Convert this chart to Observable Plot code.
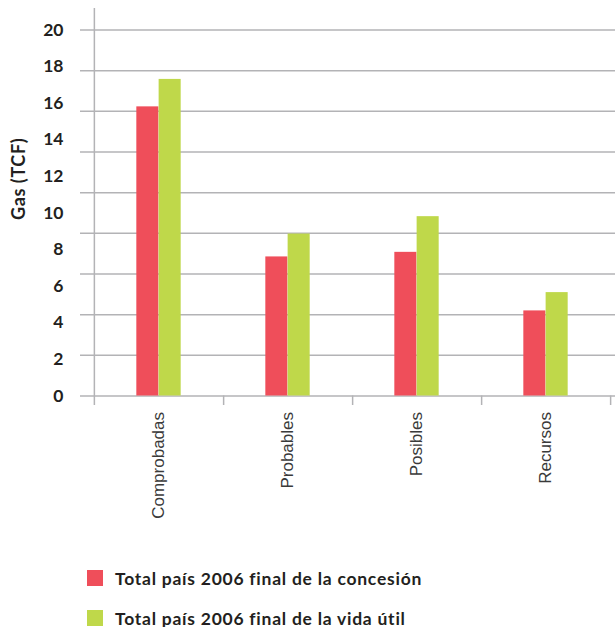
<!DOCTYPE html>
<html>
<head>
<meta charset="utf-8">
<script src="https://cdn.jsdelivr.net/npm/d3@7"></script>
<script src="https://cdn.jsdelivr.net/npm/@observablehq/plot@0.6"></script>
<style>
  body { margin: 0; background: #fff; }
  #wrap { position: relative; width: 615px; height: 627px; }
  #legend { position: absolute; left: 87px; top: 566px; font-family: Lato, "Open Sans", sans-serif; font-weight: 700; font-size: 17.5px; letter-spacing: 0.75px; color: #231f20; }
  .row { display: flex; align-items: center; height: 24px; margin-bottom: 16px; }
  .sw { width: 16px; height: 16px; margin-right: 12px; }
  .ytitle { font-size: 18px; letter-spacing: 0.6px; }
</style>
</head>
<body>
<div id="wrap"><div id="chart"></div><div id="legend"></div></div>
<script>
const categories = ["Comprobadas", "Probables", "Posibles", "Recursos"];
const seriesNames = ["Total país 2006 final de la concesión", "Total país 2006 final de la vida útil"];
const concesion = [15.8, 7.6, 7.85, 4.65];
const vidaUtil = [17.3, 8.85, 9.8, 5.65];
const yTicks = [0, 2, 4, 6, 8, 10, 12, 14, 16, 18, 20];
const yTitle = "Gas (TCF)";
const colors = ["#EF4E5A", "#BFD84A"];

const data = [];
categories.forEach((c, i) => {
  data.push({cat: c, series: seriesNames[0], value: concesion[i]});
  data.push({cat: c, series: seriesNames[1], value: vidaUtil[i]});
});

const W = 615, H = 545;
const mLeft = 80, mTop = 29.5, mBottom = H - 395.5;
const xStart = 93, xEnd = 610;
const step = (xEnd - xStart) / categories.length;
const barW = 22.3;
const frameH = H - mTop - mBottom;
const gridVals = d3.range(10).map(i => i * 20 / 9);

const chart = Plot.plot({
  width: W,
  height: H,
  marginLeft: mLeft,
  marginRight: 0,
  marginTop: mTop,
  marginBottom: mBottom,
  style: {fontFamily: "Lato, 'Open Sans', sans-serif"},
  x: {type: "band", domain: categories, range: [xStart, xEnd], padding: 0},
  y: {domain: [0, 20]},
  marks: [
    Plot.ruleY(gridVals, {stroke: "#b3b3b6", strokeWidth: 1.5}),
    Plot.barY(data.filter(d => d.series === seriesNames[0]), {
      x: "cat", y: "value", fill: colors[0],
      insetLeft: step / 2 - barW, insetRight: step / 2
    }),
    Plot.barY(data.filter(d => d.series === seriesNames[1]), {
      x: "cat", y: "value", fill: colors[1],
      insetLeft: step / 2, insetRight: step / 2 - barW
    }),
    Plot.ruleX([categories[0]], {dx: -step / 2, stroke: "#b3b3b6", strokeWidth: 1.5, insetTop: -21.5, insetBottom: -9.5}),
    Plot.ruleX(categories, {dx: step / 2, stroke: "#b3b3b6", strokeWidth: 1.5, insetTop: frameH, insetBottom: -9.5}),
    Plot.axisY({ticks: yTicks, tickSize: 0, tickPadding: 17, fontSize: 17.5, fontWeight: 700, fill: "#231f20", label: null}),
    Plot.axisX({tickSize: 0, tickRotate: -90, tickPadding: 16, fontSize: 17, fill: "#3a3a3a",
      fontFamily: "'Liberation Sans', Arial, sans-serif", label: null}),
    Plot.text([yTitle], {frameAnchor: "left", rotate: -90, dx: -61, dy: 7,
      fontWeight: 700, fill: "#231f20", className: "ytitle"})
  ]
});
document.getElementById("chart").appendChild(chart);

const legend = document.getElementById("legend");
seriesNames.forEach((s, i) => {
  const row = document.createElement("div");
  row.className = "row";
  const sw = document.createElement("div");
  sw.className = "sw";
  sw.style.background = colors[i];
  const t = document.createElement("span");
  t.textContent = s;
  row.appendChild(sw);
  row.appendChild(t);
  legend.appendChild(row);
});
</script>
</body>
</html>
